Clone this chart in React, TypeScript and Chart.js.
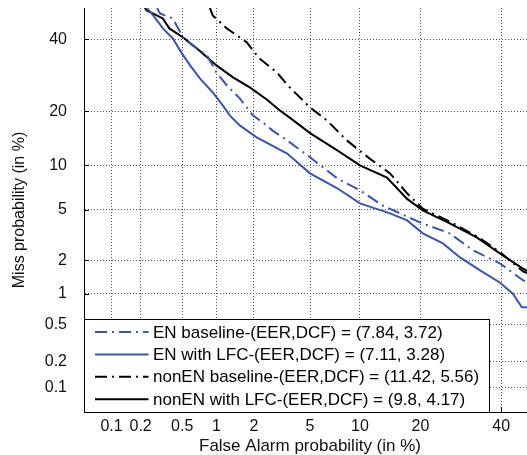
import React, { useEffect, useRef } from 'react';
import { Chart, registerables, LinearScale } from 'chart.js';

Chart.register(...registerables);

// ---------- data (values in %) ----------
const axisMin = 0.05;
const axisMax = 50;
const xTickValues = [0.1, 0.2, 0.5, 1, 2, 5, 10, 20, 40];
const xTickLabels = ['0.1', '0.2', '0.5', '1', '2', '5', '10', '20', '40'];
const yTickValues = [0.1, 0.2, 0.5, 1, 2, 5, 10, 20, 40];
const yTickLabels = ['0.1', '0.2', '0.5', '1', '2', '5', '10', '20', '40'];

const seriesLabels = [
  'EN baseline-(EER,DCF) = (7.84, 3.72)',
  'EN with LFC-(EER,DCF) = (7.11, 3.28)',
  'nonEN baseline-(EER,DCF) = (11.42, 5.56)',
  'nonEN with LFC-(EER,DCF) = (9.8, 4.17)',
];

const enBaseFA = [0.29, 0.31, 0.41, 0.51, 0.62, 0.83, 1.0, 1.22, 1.55, 1.96, 2.33, 2.76, 3.5, 5.0, 7.4, 10.0, 13.2, 19.9, 26.5, 32.3, 39.6, 46.2, 49.5];
const enBaseMiss = [50, 48.2, 46.6, 40.5, 38.0, 35.0, 30.0, 26.4, 23.1, 19.1, 17.6, 15.9, 14.05, 11.2, 8.26, 6.87, 5.39, 4.04, 3.32, 2.42, 1.88, 1.33, 1.2];

const enLfcFA = [0.23, 0.25, 0.28, 0.33, 0.41, 0.49, 0.59, 0.72, 0.93, 1.13, 1.29, 1.55, 2.1, 3.5, 5.0, 7.4, 10.0, 14.4, 17.4, 20.5, 24.9, 29.0, 34.2, 39.6, 43.3, 45.9, 49.5];
const enLfcMiss = [50, 48.7, 46.6, 43.4, 40.2, 35.9, 32.0, 28.3, 24.6, 21.4, 19.1, 16.95, 14.6, 11.8, 8.9, 7.1, 5.58, 4.72, 4.18, 3.32, 2.76, 2.11, 1.63, 1.27, 1.0, 0.74, 0.74];

const nonBaseFA = [0.88, 0.93, 1.22, 1.76, 2.2, 2.96, 3.54, 3.83, 5.0, 6.39, 8.42, 11.3, 14.4, 17.4, 20.5, 26.5, 33.3, 39.6, 46.2, 49.5];
const nonBaseMiss = [50, 47.6, 43.4, 39.0, 34.1, 30.0, 26.4, 25.1, 20.9, 18.0, 14.05, 11.0, 8.9, 6.56, 5.1, 4.1, 3.15, 2.35, 1.6, 1.45];

const nonLfcFA = [0.22, 0.23, 0.33, 0.38, 0.51, 0.68, 1.0, 1.37, 1.86, 2.5, 3.11, 3.65, 5.0, 7.4, 10.0, 13.9, 17.4, 20.5, 26.5, 33.3, 39.6, 46.2, 49.5];
const nonLfcMiss = [50, 49.2, 46.6, 43.4, 40.5, 37.1, 32.0, 28.6, 25.9, 22.8, 20.2, 18.6, 15.4, 12.3, 10.0, 8.37, 6.0, 4.97, 3.97, 3.09, 2.28, 1.69, 1.5];

// ---------- styles ----------
const BLUE = '#3b55a9';
const BLACK = '#000000';
const DASHDOT = [12, 5, 2, 5];
const FONT = "'Liberation Sans', Arial, Helvetica, sans-serif";

// ---------- probit (normal deviate) scale ----------
function probit(p: number): number {
  const a = [-3.969683028665376e1, 2.209460984245205e2, -2.759285104469687e2, 1.38357751867269e2, -3.066479806614716e1, 2.506628277459239];
  const b = [-5.447609879822406e1, 1.615858368580409e2, -1.556989798598866e2, 6.680131188771972e1, -1.328068155288572e1];
  const c = [-7.784894002430293e-3, -3.223964580411365e-1, -2.400758277161838, -2.549732539343734, 4.374664141464968, 2.938163982698783];
  const d = [7.784695709041462e-3, 3.224671290700398e-1, 2.445134137142996, 3.754408661907416];
  if (p <= 0) return -8;
  if (p >= 1) return 8;
  const pl = 0.02425;
  let q: number, r: number;
  if (p < pl) {
    q = Math.sqrt(-2 * Math.log(p));
    return (((((c[0] * q + c[1]) * q + c[2]) * q + c[3]) * q + c[4]) * q + c[5]) / ((((d[0] * q + d[1]) * q + d[2]) * q + d[3]) * q + 1);
  }
  if (p <= 1 - pl) {
    q = p - 0.5;
    r = q * q;
    return ((((((a[0] * r + a[1]) * r + a[2]) * r + a[3]) * r + a[4]) * r + a[5]) * q) / (((((b[0] * r + b[1]) * r + b[2]) * r + b[3]) * r + b[4]) * r + 1);
  }
  q = Math.sqrt(-2 * Math.log(1 - p));
  return -(((((c[0] * q + c[1]) * q + c[2]) * q + c[3]) * q + c[4]) * q + c[5]) / ((((d[0] * q + d[1]) * q + d[2]) * q + d[3]) * q + 1);
}

function normCdf(z: number): number {
  let lo = 0, hi = 1;
  for (let i = 0; i < 60; i++) {
    const mid = (lo + hi) / 2;
    if (probit(mid) < z) lo = mid; else hi = mid;
  }
  return (lo + hi) / 2;
}

class ProbitScale extends (LinearScale as any) {
  static id = 'probit';
  determineDataLimits() {
    const o: any = this.options;
    this.min = o.min;
    this.max = o.max;
  }
  buildTicks() {
    const vals: number[] = (this.options as any).tickValues || [];
    return vals.map((v) => ({ value: v }));
  }
  configure() {
    super.configure();
    this._zMin = probit(this.min / 100);
    this._zMax = probit(this.max / 100);
  }
  getPixelForValue(value: number) {
    if (value === null || value === undefined || isNaN(value)) return NaN;
    const z = probit(value / 100);
    return this.getPixelForDecimal((z - this._zMin) / (this._zMax - this._zMin));
  }
  getValueForPixel(pixel: number) {
    const dd = this.getDecimalForPixel(pixel);
    const z = this._zMin + dd * (this._zMax - this._zMin);
    return normCdf(z) * 100;
  }
}
Chart.register(ProbitScale as any);

const toPoints = (xs: number[], ys: number[]) => xs.map((x, i) => ({ x, y: ys[i] }));

const legendPlugin = {
  id: 'detLegend',
  afterDatasetsDraw(chart: any) {
    const { ctx, chartArea, scales } = chart;
    ctx.save();
    // inward tick marks
    ctx.strokeStyle = '#000';
    ctx.lineWidth = 1;
    ctx.setLineDash([]);
    xTickValues.forEach((v) => {
      const px = Math.round(scales.x.getPixelForValue(v)) + 0.5;
      ctx.beginPath();
      ctx.moveTo(px, chartArea.bottom);
      ctx.lineTo(px, chartArea.bottom - 5);
      ctx.stroke();
    });
    yTickValues.forEach((v) => {
      const py = Math.round(scales.y.getPixelForValue(v)) + 0.5;
      ctx.beginPath();
      ctx.moveTo(chartArea.left, py);
      ctx.lineTo(chartArea.left + 5, py);
      ctx.stroke();
    });
    // legend box
    const left = Math.round(chartArea.left) + 0.5;
    const bottom = Math.round(chartArea.bottom) + 0.5;
    const w = 405;
    const h = 93;
    const top = bottom - h;
    ctx.fillStyle = '#ffffff';
    ctx.fillRect(left, top, w, h);
    ctx.strokeStyle = '#000';
    ctx.lineWidth = 1;
    ctx.strokeRect(left, top, w, h);
    ctx.font = `17px ${FONT}`;
    ctx.textBaseline = 'middle';
    ctx.textAlign = 'left';
    chart.data.datasets.forEach((ds: any, i: number) => {
      const y = top + 12.5 + i * 22.4;
      ctx.save();
      ctx.strokeStyle = ds.borderColor;
      ctx.lineWidth = 2;
      ctx.setLineDash(ds.borderDash || []);
      ctx.beginPath();
      ctx.moveTo(left + 10.5, y);
      ctx.lineTo(left + 64, y);
      ctx.stroke();
      ctx.restore();
      ctx.fillStyle = '#000';
      ctx.fillText(seriesLabels[i], left + 68.5, y + 1);
    });
    ctx.restore();
  },
};

export default function App() {
  const ref = useRef<HTMLCanvasElement>(null);
  useEffect(() => {
    const canvas = ref.current;
    if (!canvas) return;
    const chart = new Chart(canvas, {
      type: 'line',
      data: {
        datasets: [
          { label: seriesLabels[0], data: toPoints(enBaseFA, enBaseMiss), borderColor: BLUE, borderDash: DASHDOT, borderWidth: 2, pointRadius: 0, fill: false, tension: 0 },
          { label: seriesLabels[1], data: toPoints(enLfcFA, enLfcMiss), borderColor: BLUE, borderWidth: 2, pointRadius: 0, fill: false, tension: 0 },
          { label: seriesLabels[2], data: toPoints(nonBaseFA, nonBaseMiss), borderColor: BLACK, borderDash: DASHDOT, borderWidth: 2, pointRadius: 0, fill: false, tension: 0 },
          { label: seriesLabels[3], data: toPoints(nonLfcFA, nonLfcMiss), borderColor: BLACK, borderWidth: 2, pointRadius: 0, fill: false, tension: 0 },
        ],
      } as any,
      options: {
        responsive: false,
        animation: false,
        events: [],
        layout: { padding: { left: 0, top: 8, right: 24, bottom: 0 } },
        plugins: { legend: { display: false }, tooltip: { enabled: false } },
        scales: {
          x: {
            type: 'probit' as any,
            min: axisMin,
            max: axisMax,
            tickValues: xTickValues,
            grid: { color: '#555', lineWidth: 1, drawTicks: false },
            border: { display: true, color: '#000', width: 1, dash: [1, 2] },
            ticks: {
              autoSkip: false,
              maxRotation: 0,
              padding: 5,
              color: '#111',
              font: { family: FONT, size: 16 },
              callback: (_v: any, i: number) => xTickLabels[i],
            },
            title: {
              display: true,
              text: 'False Alarm probability (in %)',
              color: '#111',
              font: { family: FONT, size: 17, lineHeight: 1 },
              padding: { top: 0, bottom: 0.5 },
            },
            afterFit: (s: any) => { s.height = 43; s.paddingLeft = 0; s.paddingRight = 0; },
          } as any,
          y: {
            type: 'probit' as any,
            min: axisMin,
            max: axisMax,
            tickValues: yTickValues,
            grid: { color: '#555', lineWidth: 1, drawTicks: false },
            border: { display: true, color: '#000', width: 1, dash: [1, 2] },
            ticks: {
              autoSkip: false,
              padding: 17,
              color: '#111',
              font: { family: FONT, size: 16 },
              callback: (_v: any, i: number) => yTickLabels[i],
            },
            title: {
              display: true,
              text: 'Miss probability (in %)',
              color: '#111',
              font: { family: FONT, size: 16, lineHeight: 1 },
              padding: { top: 12, bottom: 0 },
            },
            afterFit: (s: any) => { s.width = 84; s.paddingTop = 0; s.paddingBottom = 0; },
          } as any,
        },
      } as any,
      plugins: [legendPlugin],
    });
    return () => chart.destroy();
  }, []);
  return (
    <div style={{ position: 'fixed', left: 0, top: 0, width: 527, height: 455, overflow: 'hidden', background: '#fff' }}>
      <canvas ref={ref} width={560} height={455} style={{ display: 'block' }} />
    </div>
  );
}
